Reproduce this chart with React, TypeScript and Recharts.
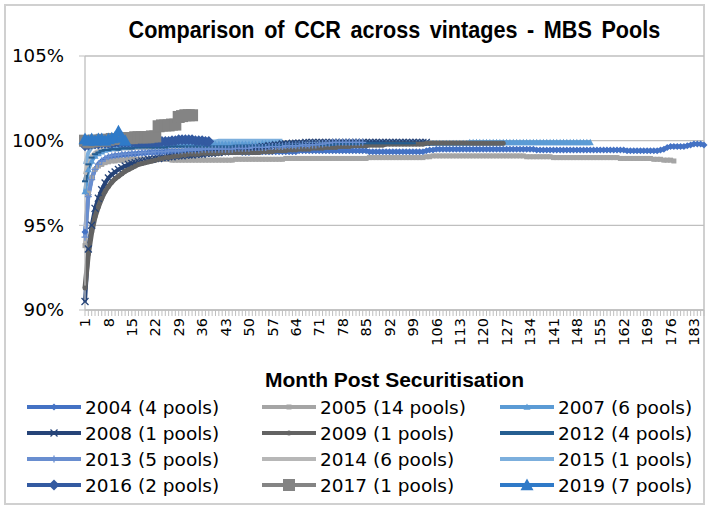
import React from 'react';
import { LineChart, Line, XAxis, YAxis, CartesianGrid, Legend, Label } from 'recharts';

// months since securitisation (x categories)
const months = Array.from({ length: 186 }, (_, i) => i + 1);
const yTicks = [90, 95, 100, 105];

// CCR by vintage, in percent
const v2004 = [
  94.6, 96.8, 97.8, 98.3, 98.6, 98.8, 98.9, 99.0, 99.05, 99.1,
  99.1, 99.15, 99.15, 99.2, 99.2, 99.2, 99.25, 99.25, 99.25, 99.3,
  99.3, 99.3, 99.3, 99.3, 99.35, 99.35, 99.35, 99.35, 99.35, 99.35,
  99.35, 99.35, 99.35, 99.35, 99.35, 99.4, 99.4, 99.35, 99.35, 99.35,
  99.35, 99.35, 99.35, 99.35, 99.35, 99.35, 99.35, 99.3, 99.3, 99.3,
  99.35, 99.35, 99.35, 99.35, 99.35, 99.35, 99.35, 99.35, 99.35, 99.35,
  99.35, 99.35, 99.35, 99.35, 99.4, 99.4, 99.4, 99.4, 99.4, 99.4,
  99.4, 99.4, 99.4, 99.4, 99.4, 99.4, 99.4, 99.4, 99.4, 99.4,
  99.4, 99.4, 99.4, 99.4, 99.4, 99.35, 99.35, 99.35, 99.35, 99.35,
  99.35, 99.35, 99.35, 99.35, 99.35, 99.35, 99.35, 99.35, 99.35, 99.35,
  99.35, 99.35, 99.4, 99.45, 99.45, 99.5, 99.5, 99.5, 99.5, 99.5,
  99.5, 99.5, 99.5, 99.5, 99.5, 99.5, 99.5, 99.5, 99.5, 99.5,
  99.5, 99.5, 99.5, 99.5, 99.5, 99.5, 99.5, 99.5, 99.5, 99.5,
  99.5, 99.5, 99.5, 99.5, 99.5, 99.45, 99.45, 99.45, 99.45, 99.45,
  99.45, 99.45, 99.45, 99.45, 99.45, 99.45, 99.45, 99.45, 99.45, 99.45,
  99.45, 99.45, 99.45, 99.45, 99.45, 99.45, 99.45, 99.45, 99.45, 99.45,
  99.45, 99.45, 99.4, 99.4, 99.4, 99.4, 99.4, 99.4, 99.4, 99.4,
  99.4, 99.4, 99.45, 99.5, 99.6, 99.65, 99.65, 99.65, 99.65, 99.65,
  99.7, 99.75, 99.8, 99.8, 99.8, 99.75,
];
const v2005 = [
  93.8, 96.9, 97.8, 98.3, 98.5, 98.6, 98.7, 98.75, 98.8, 98.8,
  98.85, 98.85, 98.85, 98.9, 98.9, 98.9, 98.9, 98.9, 98.9, 98.9,
  98.9, 98.9, 98.9, 98.9, 98.9, 98.9, 98.85, 98.85, 98.85, 98.85,
  98.85, 98.85, 98.85, 98.85, 98.85, 98.85, 98.85, 98.85, 98.85, 98.85,
  98.85, 98.85, 98.85, 98.85, 98.85, 98.9, 98.9, 98.9, 98.9, 98.9,
  98.9, 98.9, 98.9, 98.9, 98.9, 98.9, 98.9, 98.9, 98.9, 98.9,
  98.95, 98.95, 98.95, 98.95, 98.95, 98.95, 98.95, 98.95, 98.95, 98.95,
  98.95, 98.95, 98.95, 98.95, 98.95, 98.95, 98.95, 98.95, 98.95, 98.95,
  98.95, 98.95, 98.95, 98.95, 98.95, 99.0, 99.0, 99.0, 99.0, 99.0,
  99.0, 99.0, 99.0, 99.0, 99.0, 99.0, 99.0, 99.0, 99.0, 99.0,
  99.0, 99.0, 99.05, 99.05, 99.1, 99.1, 99.1, 99.1, 99.1, 99.1,
  99.1, 99.1, 99.1, 99.1, 99.1, 99.1, 99.1, 99.1, 99.1, 99.1,
  99.1, 99.1, 99.1, 99.1, 99.1, 99.1, 99.1, 99.1, 99.1, 99.1,
  99.1, 99.1, 99.05, 99.05, 99.05, 99.05, 99.05, 99.05, 99.05, 99.05,
  99.0, 99.0, 99.0, 99.0, 99.0, 99.0, 99.0, 99.0, 99.0, 99.0,
  99.0, 99.0, 99.0, 99.0, 99.0, 99.0, 99.0, 99.0, 99.0, 99.0,
  98.95, 98.95, 98.95, 98.95, 98.95, 98.95, 98.95, 98.95, 98.95, 98.95,
  98.9, 98.9, 98.9, 98.85, 98.85, 98.85, 98.8,
];
const v2007 = [
  97.0, 98.3, 98.8, 99.1, 99.25, 99.35, 99.45, 99.5, 99.55, 99.6,
  99.6, 99.65, 99.65, 99.7, 99.7, 99.7, 99.7, 99.75, 99.75, 99.75,
  99.75, 99.75, 99.75, 99.75, 99.75, 99.75, 99.75, 99.75, 99.75, 99.75,
  99.8, 99.8, 99.8, 99.8, 99.8, 99.8, 99.8, 99.8, 99.8, 99.8,
  99.8, 99.8, 99.8, 99.8, 99.8, 99.8, 99.8, 99.8, 99.8, 99.8,
  99.8, 99.8, 99.8, 99.85, 99.85, 99.85, 99.85, 99.85, 99.85, 99.85,
  99.85, 99.85, 99.85, 99.85, 99.85, 99.85, 99.85, 99.85, 99.85, 99.85,
  99.85, 99.85, 99.85, 99.85, 99.85, 99.85, 99.85, 99.85, 99.85, 99.85,
  99.85, 99.85, 99.85, 99.85, 99.85, 99.85, 99.85, 99.85, 99.85, 99.85,
  99.85, 99.85, 99.85, 99.85, 99.85, 99.85, 99.85, 99.85, 99.85, 99.85,
  99.85, 99.85, 99.85, 99.85, 99.85, 99.85, 99.85, 99.85, 99.85, 99.85,
  99.85, 99.85, 99.85, 99.85, 99.85, 99.9, 99.9, 99.9, 99.9, 99.9,
  99.9, 99.9, 99.9, 99.9, 99.9, 99.9, 99.9, 99.9, 99.9, 99.9,
  99.9, 99.9, 99.9, 99.9, 99.9, 99.9, 99.9, 99.9, 99.9, 99.9,
  99.9, 99.9, 99.9, 99.9, 99.9, 99.9, 99.9, 99.9, 99.9, 99.9,
  99.9, 99.9,
];
const v2008 = [
  90.5, 93.6, 95.0, 96.0, 96.6, 97.1, 97.5, 97.8, 98.0, 98.15,
  98.3, 98.4, 98.5, 98.6, 98.65, 98.7, 98.75, 98.8, 98.85, 98.9,
  98.9, 98.95, 98.95, 99.0, 99.0, 99.05, 99.05, 99.1, 99.1, 99.1,
  99.15, 99.15, 99.15, 99.2, 99.2, 99.2, 99.25, 99.25, 99.25, 99.3,
  99.3, 99.35, 99.35, 99.4, 99.4, 99.45, 99.45, 99.5, 99.5, 99.55,
  99.55, 99.6, 99.6, 99.65, 99.65, 99.7, 99.7, 99.75, 99.75, 99.8,
  99.8, 99.8, 99.85, 99.85, 99.85, 99.85, 99.9, 99.9, 99.9, 99.9,
  99.9, 99.9, 99.9, 99.9, 99.9, 99.9, 99.9, 99.9, 99.9, 99.9,
  99.9, 99.9, 99.9, 99.9, 99.9, 99.9, 99.9, 99.9, 99.9, 99.9,
  99.9, 99.9, 99.9, 99.9, 99.9, 99.9, 99.9, 99.9, 99.9, 99.9,
  99.9, 99.9, 99.9,
];
const v2009 = [
  91.3, 93.3, 94.6, 95.5, 96.1, 96.6, 97.0, 97.3, 97.55, 97.75,
  97.9, 98.05, 98.2, 98.3, 98.4, 98.5, 98.6, 98.65, 98.7, 98.75,
  98.8, 98.85, 98.9, 98.95, 99.0, 99.0, 99.05, 99.1, 99.1, 99.15,
  99.15, 99.2, 99.2, 99.2, 99.2, 99.25, 99.25, 99.25, 99.25, 99.25,
  99.25, 99.3, 99.3, 99.3, 99.3, 99.3, 99.3, 99.3, 99.3, 99.3,
  99.3, 99.3, 99.3, 99.35, 99.35, 99.35, 99.35, 99.4, 99.4, 99.4,
  99.4, 99.45, 99.45, 99.45, 99.5, 99.5, 99.5, 99.5, 99.55, 99.55,
  99.55, 99.55, 99.6, 99.6, 99.6, 99.6, 99.65, 99.65, 99.65, 99.65,
  99.7, 99.7, 99.7, 99.7, 99.7, 99.75, 99.75, 99.75, 99.75, 99.75,
  99.8, 99.8, 99.8, 99.8, 99.8, 99.8, 99.8, 99.8, 99.8, 99.8,
  99.8, 99.8, 99.85, 99.85, 99.85, 99.85, 99.85, 99.85, 99.85, 99.85,
  99.85, 99.85, 99.85, 99.85, 99.85, 99.85, 99.85, 99.85, 99.85, 99.85,
  99.85, 99.85, 99.85, 99.85, 99.85, 99.85,
];
const v2012 = [
  97.6, 98.6, 99.0, 99.2, 99.3, 99.4, 99.45, 99.45, 99.5, 99.5,
  99.5, 99.55, 99.55, 99.55, 99.55, 99.6, 99.6, 99.6, 99.6, 99.6,
  99.6, 99.6, 99.6, 99.6, 99.6, 99.65, 99.65, 99.65, 99.65, 99.65,
  99.65, 99.65, 99.65, 99.65, 99.65, 99.65, 99.65, 99.65, 99.65, 99.65,
  99.65, 99.65, 99.65, 99.65, 99.65, 99.7, 99.7, 99.7, 99.7, 99.7,
  99.7, 99.7, 99.7, 99.7, 99.7, 99.7, 99.7, 99.7, 99.7, 99.7,
  99.7, 99.7, 99.7, 99.7, 99.7, 99.75, 99.75, 99.75, 99.75, 99.75,
  99.75, 99.75, 99.75, 99.75, 99.75, 99.8, 99.8, 99.8, 99.8, 99.8,
  99.8, 99.8, 99.85, 99.85, 99.85, 99.85, 99.85, 99.85, 99.85, 99.85,
  99.85, 99.85, 99.85, 99.85, 99.85, 99.85, 99.85, 99.85, 99.85,
];
const v2013 = [
  94.3, 96.7, 97.7, 98.3, 98.6, 98.8, 98.95, 99.05, 99.1, 99.15,
  99.15, 99.2, 99.2, 99.2, 99.25, 99.25, 99.25, 99.3, 99.3, 99.3,
  99.3, 99.35, 99.35, 99.35, 99.35, 99.4, 99.4, 99.4, 99.4, 99.4,
  99.45, 99.45, 99.45, 99.45, 99.45, 99.5, 99.5, 99.5, 99.5, 99.5,
  99.5, 99.5, 99.5, 99.5, 99.5, 99.55, 99.55, 99.55, 99.55, 99.55,
  99.6, 99.6, 99.6, 99.6, 99.6, 99.65, 99.65, 99.65, 99.65, 99.65,
  99.7, 99.7, 99.7, 99.7, 99.7, 99.75, 99.75, 99.75, 99.75, 99.75,
  99.8, 99.8, 99.85, 99.85, 99.9, 99.9, 99.9, 99.9, 99.9, 99.9,
  99.9, 99.9, 99.9, 99.9,
];
const v2014 = [
  98.0, 98.8, 99.1, 99.3, 99.4, 99.45, 99.5, 99.5, 99.55, 99.55,
  99.6, 99.6, 99.6, 99.6, 99.6, 99.6, 99.6, 99.6, 99.6, 99.6,
  99.65, 99.65, 99.65, 99.65, 99.65, 99.65, 99.65, 99.65, 99.65, 99.65,
  99.7, 99.7, 99.7, 99.7, 99.7, 99.7, 99.7, 99.7, 99.7, 99.7,
  99.75, 99.75, 99.75, 99.75, 99.75, 99.75, 99.75, 99.75, 99.75, 99.75,
  99.8, 99.8, 99.8, 99.8, 99.8, 99.85, 99.85, 99.85, 99.85, 99.85,
  99.9, 99.9, 99.9, 99.9, 99.9, 99.9, 99.9, 99.9, 99.9, 99.9,
  99.9, 99.9, 99.9, 99.9,
];
const v2015 = [
  98.6, 99.3, 99.6, 99.7, 99.75, 99.8, 99.8, 99.8, 99.85, 99.85,
  99.85, 99.85, 99.9, 99.9, 99.9, 99.9, 99.9, 99.9, 99.9, 99.9,
  99.9, 99.9, 99.9, 99.9, 99.9, 99.9, 99.9, 99.9, 99.9, 99.9,
  99.95, 99.95, 99.95, 99.95, 99.95, 99.95, 99.95, 99.95, 99.95, 99.95,
  100.0, 100.0, 100.0, 100.0, 100.0, 100.0, 100.0, 100.0, 100.0, 100.0,
  100.0, 100.0, 100.0, 100.0, 100.0, 100.0, 100.0, 100.0, 100.0, 100.0,
];
const v2016 = [
  99.7, 99.75, 99.8, 99.8, 99.8, 99.85, 99.85, 99.85, 99.85, 99.9,
  99.9, 99.9, 99.9, 99.9, 99.9, 99.9, 99.9, 99.9, 99.9, 99.9,
  99.9, 99.9, 99.9, 99.95, 99.95, 99.95, 100.0, 100.0, 100.05, 100.05,
  100.05, 100.05, 100.05, 100.0, 100.0, 100.0, 99.95, 99.95,
];
const v2017 = [
  100.0, 99.9, 99.95, 100.0, 100.0, 100.05, 100.0, 100.05, 100.1, 100.1,
  100.1, 100.1, 100.15, 100.15, 100.15, 100.2, 100.2, 100.2, 100.2, 100.2,
  100.25, 100.25, 100.85, 100.9, 100.9, 100.9, 100.95, 100.95, 101.4, 101.45,
  101.5, 101.5, 101.5,
];
const v2019 = [
  100.1, 100.0, 100.1, 100.0, 100.1, 100.1, 100.0, 100.1, 100.15, 100.2,
  100.55, 100.2, 100.0,
];

type Shape = 'diamond' | 'square' | 'triangle' | 'x' | 'circle' | 'dash' | 'plus' | 'none';

interface SeriesDef {
  key: string;
  name: string;
  values: number[];
  color: string;
  shape: Shape;
  size: number;
}

const series: SeriesDef[] = [
  { key: 's2004', name: '2004 (4 pools)', values: v2004, color: '#4472C4', shape: 'diamond', size: 7 },
  { key: 's2005', name: '2005 (14 pools)', values: v2005, color: '#A5A5A5', shape: 'square', size: 5 },
  { key: 's2007', name: '2007 (6 pools)', values: v2007, color: '#5B9BD5', shape: 'triangle', size: 7 },
  { key: 's2008', name: '2008 (1 pools)', values: v2008, color: '#264478', shape: 'x', size: 7 },
  { key: 's2009', name: '2009 (1 pools)', values: v2009, color: '#636363', shape: 'circle', size: 5 },
  { key: 's2012', name: '2012 (4 pools)', values: v2012, color: '#255E91', shape: 'dash', size: 6 },
  { key: 's2013', name: '2013 (5 pools)', values: v2013, color: '#698ED0', shape: 'plus', size: 7 },
  { key: 's2014', name: '2014 (6 pools)', values: v2014, color: '#B7B7B7', shape: 'none', size: 0 },
  { key: 's2015', name: '2015 (1 pools)', values: v2015, color: '#7CAFDD', shape: 'none', size: 0 },
  { key: 's2016', name: '2016 (2 pools)', values: v2016, color: '#335AA1', shape: 'diamond', size: 11 },
  { key: 's2017', name: '2017 (1 pools)', values: v2017, color: '#848484', shape: 'square', size: 12 },
  { key: 's2019', name: '2019 (7 pools)', values: v2019, color: '#2F7AC8', shape: 'triangle', size: 13 },
];

const data = months.map((m, i) => {
  const row: Record<string, number | undefined> = { month: m };
  series.forEach((s) => {
    row[s.key] = s.values[i];
  });
  return row;
});

const DEJA = "'DejaVu Sans', 'Liberation Sans', sans-serif";
const SANS = "'Liberation Sans', Arial, sans-serif";
const GRID = '#BFBFBF';

const Marker = ({ shape, cx, cy, size, color }: { shape: Shape; cx: number; cy: number; size: number; color: string }) => {
  const h = size / 2;
  switch (shape) {
    case 'diamond':
      return <polygon points={`${cx},${cy - h} ${cx + h},${cy} ${cx},${cy + h} ${cx - h},${cy}`} fill={color} />;
    case 'square':
      return <rect x={cx - h} y={cy - h} width={size} height={size} fill={color} />;
    case 'triangle':
      return <polygon points={`${cx},${cy - h} ${cx + h},${cy + h * 0.8} ${cx - h},${cy + h * 0.8}`} fill={color} />;
    case 'x':
      return (
        <g stroke={color} strokeWidth={1.3}>
          <line x1={cx - h} y1={cy - h} x2={cx + h} y2={cy + h} />
          <line x1={cx - h} y1={cy + h} x2={cx + h} y2={cy - h} />
        </g>
      );
    case 'circle':
      return <circle cx={cx} cy={cy} r={h} fill={color} />;
    case 'dash':
      return <rect x={cx - h} y={cy - 1} width={size} height={2} fill={color} />;
    case 'plus':
      return (
        <g stroke={color} strokeWidth={1.3}>
          <line x1={cx - h} y1={cy} x2={cx + h} y2={cy} />
          <line x1={cx} y1={cy - h} x2={cx} y2={cy + h} />
        </g>
      );
    default:
      return <g />;
  }
};

// label every 7th month (1, 8, 15, ...), tick line on every month
const MonthTick = (props: any) => {
  const { x, y, payload } = props;
  if ((Number(payload.value) - 1) % 7 !== 0) return <g />;
  return (
    <text
      x={x}
      y={y}
      transform={`rotate(-90, ${x}, ${y})`}
      textAnchor="end"
      dy="0.36em"
      fontFamily={DEJA}
      fontSize={14.5}
      fill="#000"
    >
      {payload.value}
    </text>
  );
};

const LegendBox = () => (
  <div
    style={{
      display: 'grid',
      gridTemplateColumns: '235px 238px 200px',
      fontFamily: DEJA,
      fontSize: 18.5,
      color: '#000',
    }}
  >
    {series.map((s) => (
      <div key={s.key} style={{ display: 'flex', alignItems: 'center', height: 26, whiteSpace: 'nowrap' }}>
        <svg width={56} height={16} style={{ flex: 'none' }}>
          <line x1={1} y1={8} x2={55} y2={8} stroke={s.color} strokeWidth={4} />
          <Marker shape={s.shape} cx={28} cy={8} size={s.size} color={s.color} />
        </svg>
        <span style={{ marginLeft: 3 }}>{s.name}</span>
      </div>
    ))}
  </div>
);

const App = () => (
  <div style={{ position: 'absolute', left: 0, top: 0, width: 710, height: 509, background: '#fff' }}>
    <div
      style={{
        position: 'absolute',
        left: 4,
        top: 4,
        width: 701,
        height: 501,
        border: '2px solid #D0D0D0',
        boxSizing: 'border-box',
        pointerEvents: 'none',
      }}
    />
    <div
      style={{
        position: 'absolute',
        left: 85,
        width: 619,
        top: 14,
        textAlign: 'center',
        fontFamily: SANS,
        fontWeight: 'bold',
        fontSize: 24,
        lineHeight: '32px',
        color: '#000',
        whiteSpace: 'nowrap',
      }}
    >
      <span style={{ display: 'inline-block', transform: 'scaleX(0.9)', wordSpacing: 4 }}>
        Comparison of CCR across vintages - MBS Pools
      </span>
    </div>
    <LineChart width={710} height={509} data={data} margin={{ top: 56, right: 6, bottom: 119, left: 0 }}>
      <CartesianGrid vertical={false} stroke={GRID} strokeWidth={1.3} />
      <XAxis
        dataKey="month"
        interval={0}
        tick={<MonthTick />}
        tickLine={{ stroke: GRID }}
        axisLine={{ stroke: GRID, strokeWidth: 1.3 }}
        tickSize={6}
        tickMargin={2}
        height={80}
      >
        <Label
          value="Month Post Securitisation"
          position="insideBottom"
          offset={3}
          style={{ fontFamily: SANS, fontWeight: 'bold', fontSize: 21, fill: '#000' }}
        />
      </XAxis>
      <YAxis
        width={85}
        domain={[90, 105]}
        ticks={yTicks}
        allowDataOverflow
        tickFormatter={(v: number) => `${v}%`}
        tick={{ fontFamily: DEJA, fontSize: 18.2, fill: '#000' }}
        tickLine={{ stroke: GRID }}
        axisLine={{ stroke: GRID, strokeWidth: 1.3 }}
        tickSize={6}
        tickMargin={15}
      />
      <Legend
        layout="vertical"
        align="center"
        verticalAlign="middle"
        content={<LegendBox />}
        wrapperStyle={{ left: 26, top: 394, width: 680, height: 104 }}
      />
      {series.map((s) => (
        <Line
          key={s.key}
          dataKey={s.key}
          name={s.name}
          type="linear"
          stroke={s.color}
          strokeWidth={s.key === 's2009' ? 5 : 4}
          isAnimationActive={false}
          dot={(p: any) =>
            p.cy == null || p.value == null ? (
              <g key={`${s.key}-${p.index}`} />
            ) : (
              <Marker key={`${s.key}-${p.index}`} shape={s.shape} cx={p.cx} cy={p.cy} size={s.size} color={s.color} />
            )
          }
          activeDot={false}
        />
      ))}
    </LineChart>
  </div>
);

export default App;
